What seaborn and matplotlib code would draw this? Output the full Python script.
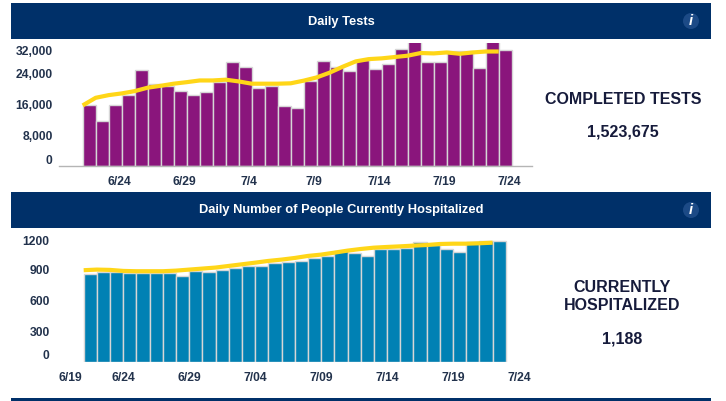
import numpy as np
import pandas as pd
import seaborn as sns
import matplotlib.pyplot as plt
from matplotlib.patches import Rectangle, Circle
from matplotlib.transforms import ScaledTranslation

sns.set_theme(style='white')
plt.rcParams['font.family'] = ['Liberation Sans', 'DejaVu Sans']

W, H = 726, 401
NAVY = '#003069'
LABEL = '#22324c'
DARK = '#161b3b'
GOLD = '#ffd618'

# Daily tests
tests = [16100, 11900, 16100, 18700, 25300, 21600, 21000, 19750, 18700, 19500, 22100,
         27400, 26000, 20500, 21100, 15800, 15300, 22300, 27600, 26000, 25000, 27800,
         25500, 26900, 30800, 33500, 27400, 27400, 30200, 30200, 25800, 33500, 30500]
tests_avg = [15900, 17900, 18600, 19050, 19650, 20550, 21050, 21600, 22000, 22450, 22450,
             22650, 22200, 21600, 21600, 21600, 21700, 22400, 23250, 24500, 26050, 27450,
             28050, 28250, 28600, 28950, 29650, 29550, 29800, 29450, 29800, 30050, 30050]
tests_yticks = [0, 8000, 16000, 24000, 32000]
tests_xlabels = ['6/24', '6/29', '7/4', '7/9', '7/14', '7/19', '7/24']

# Currently hospitalized
hosp = [864, 880, 880, 874, 870, 870, 870, 841, 887, 880, 900, 923, 936, 939, 968, 978,
        988, 1014, 1033, 1086, 1066, 1037, 1102, 1108, 1115, 1174, 1141, 1105, 1076, 1174,
        1183, 1188]
hosp_avg = [897, 903, 900, 890, 887, 887, 887, 893, 903, 913, 923, 939, 955, 971, 988, 1001,
            1017, 1037, 1050, 1069, 1089, 1105, 1118, 1125, 1131, 1138, 1144, 1154, 1157,
            1157, 1161, 1167]
hosp_yticks = [0, 300, 600, 900, 1200]
hosp_xlabels = ['6/19', '6/24', '6/29', '7/04', '7/09', '7/14', '7/19', '7/24']


def px_axes(fig, left, top, right, bottom):
    """Add an axes given its box in pixels from the top left corner."""
    return fig.add_axes([left / W, 1 - bottom / H, (right - left) / W, (bottom - top) / H])


def shift_label(label, dx=0, dy=0):
    """Move a tick label by some pixels (dy is downwards)."""
    offset = ScaledTranslation(dx / 100, -dy / 100, fig.dpi_scale_trans)
    label.set_transform(label.get_transform() + offset)


def header(title, top, bottom):
    fig.add_artist(Rectangle((11 / W, 1 - bottom / H), 700 / W, (bottom - top) / H,
                             transform=fig.transFigure, color=NAVY, lw=0))
    mid = (top + bottom) / 2
    fig.text(341 / W, 1 - (mid + 0.5) / H, title, color='white', fontsize=9.25, weight='bold',
             ha='center', va='center')
    # the little info button
    fig.add_artist(Circle((691, H - mid), 8, transform=None, color='#1c4a86', lw=0))
    fig.text(691 / W, 1 - mid / H, 'i', color='white', fontsize=10.5, weight='bold',
             style='italic', ha='center', va='center')


def bars_and_line(ax, values, avg, color):
    days = pd.date_range('2020-06-21', periods=len(values)).strftime('%m/%d')
    sns.barplot(x=days, y=values, ax=ax, color=color, width=1, saturation=1,
                edgecolor='#d6d6d6', linewidth=1)
    # the average points sit on the left edge of each bar
    sns.lineplot(x=np.arange(len(avg)) - 0.5, y=avg, ax=ax, color=GOLD, lw=3,
                 solid_capstyle='butt')
    sns.despine(ax=ax, left=True, bottom=True)
    ax.set_xlabel('')
    ax.set_ylabel('')


fig = plt.figure(figsize=(W / 100, H / 100), dpi=100)

header('Daily Tests', 3, 39)
header('Daily Number of People Currently Hospitalized', 192, 228)
fig.add_artist(Rectangle((11 / W, 0), 700 / W, 3 / H, transform=fig.transFigure, color=NAVY, lw=0))

# Top chart
ax1 = px_axes(fig, 59, 42.7, 532, 166)
bars_and_line(ax1, tests, tests_avg, '#8a157c')
ax1.set_xlim(-2.32, 34.06)
ax1.set_ylim(0, 32360)
ax1.spines['bottom'].set_visible(True)
ax1.spines['bottom'].set_color('#b5b5b5')
ax1.spines['bottom'].set_linewidth(1)
ax1.set_yticks(tests_yticks, [f'{v:,}' for v in tests_yticks])
ax1.set_xticks(np.arange(len(tests_xlabels)) * 5 + 2.3, tests_xlabels)
ax1.tick_params(axis='y', length=0, labelsize=8.7, labelcolor=LABEL, pad=4.5)
ax1.tick_params(axis='x', length=0, labelsize=8.7, labelcolor=LABEL, pad=7)
for lab in ax1.get_xticklabels() + ax1.get_yticklabels():
    lab.set_fontweight('bold')
ylabs = ax1.get_yticklabels()
shift_label(ylabs[0], dy=-7)
shift_label(ylabs[2], dy=-1)
shift_label(ylabs[3], dy=-1)
shift_label(ylabs[4], dy=6)

# Bottom chart
ax2 = px_axes(fig, 57.3, 239.3, 519, 361.7)
bars_and_line(ax2, hosp, hosp_avg, '#0081b4')
ax2.set_xlim(-2.47, 32.5)
ax2.set_ylim(0, 1200)
ax2.set_yticks(hosp_yticks, [str(v) for v in hosp_yticks])
ax2.set_xticks(np.arange(len(hosp_xlabels)) * 5 - 2.5, hosp_xlabels)
ax2.tick_params(axis='y', length=4, width=0.8, color='#eeeeee', labelsize=8.7,
                labelcolor=LABEL, pad=1.5)
ax2.tick_params(axis='x', length=4, width=0.8, color='#eeeeee', labelsize=8.7,
                labelcolor=LABEL, pad=3.5)
for lab in ax2.get_xticklabels() + ax2.get_yticklabels():
    lab.set_fontweight('bold')
shift_label(ax2.get_yticklabels()[0], dy=-7)
shift_label(ax2.get_yticklabels()[4], dy=1)
shift_label(ax2.get_xticklabels()[0], dx=13.5)

# Totals on the right
for label, x, y in [('COMPLETED TESTS', 623, 99), ('1,523,675', 623, 132),
                    ('CURRENTLY', 622, 287), ('HOSPITALIZED', 622, 306), ('1,188', 622, 339)]:
    fig.text(x / W, 1 - y / H, label, color=DARK, fontsize=11.5, weight='bold',
             ha='center', va='center')

fig.savefig('out.png', dpi=100)
